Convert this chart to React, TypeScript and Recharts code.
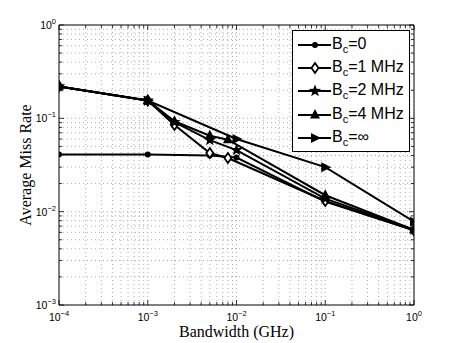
import React from 'react';
import { LineChart, Line, XAxis, YAxis, ReferenceLine } from 'recharts';

const bwZero = [1e-4, 1e-3, 5e-3, 1e-2, 1e-1, 1];
const missZero = [0.041, 0.041, 0.040, 0.038, 0.0128, 0.0063];

const bw1 = [1e-4, 1e-3, 2e-3, 5e-3, 8e-3, 1e-1, 1];
const miss1 = [0.22, 0.155, 0.085, 0.0425, 0.0376, 0.0130, 0.0063];

const bw2 = [1e-4, 1e-3, 2e-3, 5e-3, 1e-2, 1e-1, 1];
const miss2 = [0.22, 0.155, 0.091, 0.0585, 0.0457, 0.0138, 0.0064];

const bw4 = [1e-4, 1e-3, 2e-3, 5e-3, 8e-3, 1e-1, 1];
const miss4 = [0.22, 0.155, 0.093, 0.065, 0.059, 0.0150, 0.0064];

const bwInf = [1e-4, 1e-3, 1e-2, 1e-1, 1];
const missInf = [0.22, 0.155, 0.060, 0.030, 0.0078];

const zip = (xs: number[], ys: number[]) => xs.map((x, i) => ({ x, y: ys[i] }));

const series = [
  { name: '0', shape: 'circle', data: zip(bwZero, missZero) },
  { name: '1 MHz', shape: 'diamond', data: zip(bw1, miss1) },
  { name: '2 MHz', shape: 'star', data: zip(bw2, miss2) },
  { name: '4 MHz', shape: 'triangle', data: zip(bw4, miss4) },
  { name: '∞', shape: 'right', data: zip(bwInf, missInf) },
];

// 1..9 of every decade, from 10^lo up to 10^hi
const logTicks = (lo: number, hi: number) => {
  const out: number[] = [];
  for (let e = lo; e < hi; e++) for (let m = 1; m <= 9; m++) out.push(m * Math.pow(10, e));
  out.push(Math.pow(10, hi));
  return out;
};
const xTicks = logTicks(-4, 0);
const yTicks = logTicks(-3, 0);

const W = 457, H = 343;
const M = { top: 25, right: 43, left: 0, bottom: 0 };
const YW = 59, XH = 38;
const PLOT_W = W - M.right - YW;
const PLOT_H = H - M.top - XH;

const SANS = '"Liberation Sans", Arial, sans-serif';
const SERIF = '"Liberation Serif", "Times New Roman", serif';

function Marker({ cx, cy, shape }: any) {
  if (cx == null || cy == null) return null;
  if (shape === 'circle') return <circle cx={cx} cy={cy} r={3} fill="#000" />;
  if (shape === 'diamond')
    return <polygon points={`${cx},${cy - 5} ${cx + 3.5},${cy} ${cx},${cy + 5} ${cx - 3.5},${cy}`} fill="#fff" stroke="#000" strokeWidth={1.8} />;
  if (shape === 'triangle')
    return <polygon points={`${cx},${cy - 6} ${cx + 5},${cy + 3.5} ${cx - 5},${cy + 3.5}`} fill="#000" />;
  if (shape === 'right')
    return <polygon points={`${cx + 6},${cy} ${cx - 4},${cy - 5} ${cx - 4},${cy + 5}`} fill="#000" />;
  // star
  const pts: string[] = [];
  for (let i = 0; i < 10; i++) {
    const r = i % 2 === 0 ? 6.5 : 2.7;
    const a = -Math.PI / 2 + (i * Math.PI) / 5;
    pts.push(`${cx + r * Math.cos(a)},${cy + r * Math.sin(a)}`);
  }
  return <polygon points={pts.join(' ')} fill="#000" />;
}

const isDecade = (v: number) => Math.abs(Math.log10(v) - Math.round(Math.log10(v))) < 1e-9;
const expOf = (v: number) => String(Math.round(Math.log10(v))).replace('-', '\u2212');

function XTick({ x, y, payload }: any) {
  const major = isDecade(payload.value);
  const len = major ? 5 : 3;
  return (
    <g>
      <line x1={x} y1={y} x2={x} y2={y - len} stroke="#000" strokeWidth={0.8} />
      <line x1={x} y1={y - PLOT_H} x2={x} y2={y - PLOT_H + len} stroke="#000" strokeWidth={0.8} />
      {major && (
        <text x={x} y={y + 16} textAnchor="middle" fontFamily={SANS} fontSize={10.5} fill="#000">
          <tspan>10</tspan>
          <tspan dy={-5} fontSize={7.5}>{expOf(payload.value)}</tspan>
        </text>
      )}
    </g>
  );
}

function YTick({ x, y, payload }: any) {
  const major = isDecade(payload.value);
  const len = major ? 5 : 3;
  return (
    <g>
      <line x1={x} y1={y} x2={x + len} y2={y} stroke="#000" strokeWidth={0.8} />
      <line x1={x + PLOT_W} y1={y} x2={x + PLOT_W - len} y2={y} stroke="#000" strokeWidth={0.8} />
      {major && (
        <text x={x - 3} y={y + 4} textAnchor="end" fontFamily={SANS} fontSize={10.5} fill="#000">
          <tspan>10</tspan>
          <tspan dy={-5} fontSize={7.5}>{expOf(payload.value)}</tspan>
        </text>
      )}
    </g>
  );
}

function LegendBox() {
  return (
    <div style={{ position: 'absolute', left: 292, top: 30, width: 116, height: 120, border: '1px solid #000', background: '#fff', fontFamily: SANS }}>
      {series.map((s, i) => (
        <div key={s.name} style={{ position: 'absolute', left: 0, top: 2.5 + i * 23.4, height: 22, display: 'flex', alignItems: 'center' }}>
          <svg width={39} height={22} style={{ display: 'block' }}>
            <line x1={5} y1={11} x2={38} y2={11} stroke="#000" strokeWidth={2} />
            <Marker cx={22} cy={11} shape={s.shape} />
          </svg>
          <span style={{ fontSize: 16, lineHeight: '22px', color: '#000', whiteSpace: 'nowrap', marginTop: -2 }}>
            B<sub style={{ fontSize: 11, verticalAlign: -4, lineHeight: 0 }}>c</sub>={s.name}
          </span>
        </div>
      ))}
    </div>
  );
}

export default function App() {
  return (
    <div style={{ position: 'absolute', left: 0, top: 0, width: W, height: H, background: '#fff' }}>
      <LineChart width={W} height={H} margin={M}>
        <XAxis
          dataKey="x"
          type="number"
          scale="log"
          domain={[1e-4, 1]}
          ticks={xTicks}
          interval={0}
          tick={<XTick />}
          tickSize={0}
          tickMargin={0}
          height={XH}
          axisLine={{ stroke: '#000', strokeWidth: 1 }}
          tickLine={false}
          allowDataOverflow
        />
        <YAxis
          type="number"
          scale="log"
          domain={[1e-3, 1]}
          ticks={yTicks}
          interval={0}
          tick={<YTick />}
          tickSize={0}
          tickMargin={0}
          width={YW}
          axisLine={{ stroke: '#000', strokeWidth: 1 }}
          tickLine={false}
          allowDataOverflow
        />
        {xTicks.slice(1, -1).map((v) => (
          <ReferenceLine key={'gx' + v} x={v} stroke="#999" strokeWidth={0.8} strokeDasharray="1 3" />
        ))}
        {yTicks.slice(1, -1).map((v) => (
          <ReferenceLine key={'gy' + v} y={v} stroke="#999" strokeWidth={0.8} strokeDasharray="1 3" />
        ))}
        <ReferenceLine x={1} stroke="#000" strokeWidth={1} />
        <ReferenceLine y={1} stroke="#000" strokeWidth={1} />
        {series.map((s) => (
          <Line
            key={s.name}
            data={s.data}
            dataKey="y"
            name={s.name}
            stroke="#000"
            strokeWidth={2}
            isAnimationActive={false}
            dot={(p: any) => <Marker key={`${s.name}-${p.index}`} cx={p.cx} cy={p.cy} shape={s.shape} />}
          />
        ))}
        <text x={31} y={165} transform="rotate(-90 31 165)" textAnchor="middle" fontFamily={SERIF} fontSize={16} fill="#000">
          Average Miss Rate
        </text>
        <text x={236.5} y={337} textAnchor="middle" fontFamily={SERIF} fontSize={16} fill="#000">
          Bandwidth (GHz)
        </text>
      </LineChart>
      <LegendBox />
    </div>
  );
}
